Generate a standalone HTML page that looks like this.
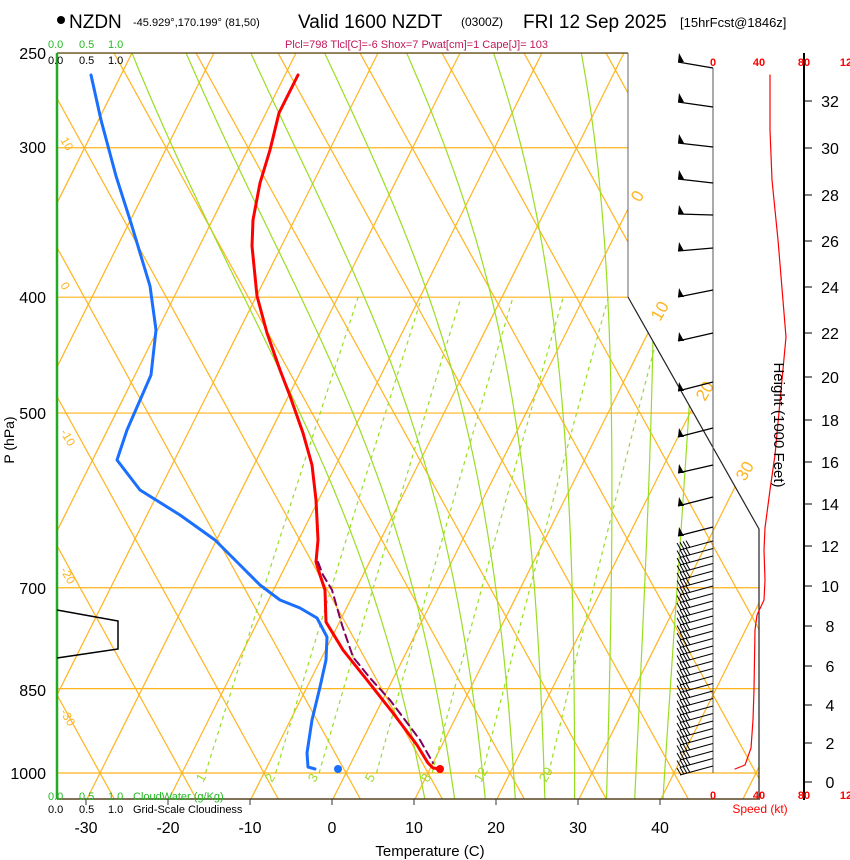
<!DOCTYPE html>
<html><head><meta charset="utf-8"><style>
html,body{margin:0;padding:0;background:#fff;overflow:hidden;}
svg{display:block;font-family:"Liberation Sans",sans-serif;}
</style></head><body>
<svg id="s" width="850" height="860" xmlns="http://www.w3.org/2000/svg">
<defs><clipPath id="cp"><polygon points="57,53 628,53 628,297 759,529 759,799 57,799"/></clipPath></defs>
<g id="grid" clip-path="url(#cp)"></g>
<g id="fg"></g>
<circle cx="61" cy="20" r="4" fill="#000"/>
<text x="69" y="28" font-size="19">NZDN</text>
<text x="133" y="26" font-size="11">-45.929°,170.199° (81,50)</text>
<text x="298" y="28" font-size="19">Valid 1600 NZDT</text>
<text x="461" y="26" font-size="12">(0300Z)</text>
<text x="523" y="28" font-size="19">FRI 12 Sep 2025</text>
<text x="680" y="27" font-size="13">[15hrFcst@1846z]</text>
<text x="285" y="48" font-size="11" fill="#c0185a">Plcl=798 Tlcl[C]=-6 Shox=7 Pwat[cm]=1 Cape[J]= 103</text>
<g font-size="11" fill="#22bb22"><text x="48" y="48">0.0</text><text x="79" y="48">0.5</text><text x="108" y="48">1.0</text>
<text x="48" y="800">0.0</text><text x="79" y="800">0.5</text><text x="108" y="800">1.0</text><text x="133" y="800">CloudWater (g/Kg)</text></g>
<g font-size="11" fill="#000"><text x="48" y="64">0.0</text><text x="79" y="64">0.5</text><text x="108" y="64">1.0</text>
<text x="48" y="813">0.0</text><text x="79" y="813">0.5</text><text x="108" y="813">1.0</text><text x="133" y="813">Grid-Scale Cloudiness</text></g>
<g font-size="16" text-anchor="end"><text x="46" y="59">250</text><text x="46" y="153">300</text><text x="46" y="303">400</text><text x="46" y="419">500</text><text x="46" y="594">700</text><text x="46" y="696">850</text><text x="46" y="779">1000</text></g>
<text transform="translate(14,440) rotate(-90)" font-size="14" text-anchor="middle">P (hPa)</text>
<g font-size="16" text-anchor="middle"><text x="86" y="833">-30</text><text x="168" y="833">-20</text><text x="250" y="833">-10</text><text x="332" y="833">0</text><text x="414" y="833">10</text><text x="496" y="833">20</text><text x="578" y="833">30</text><text x="660" y="833">40</text></g>
<text x="430" y="856" font-size="15" text-anchor="middle">Temperature (C)</text>
<text transform="translate(774,425) rotate(90)" font-size="15" text-anchor="middle">Height (1000 Feet)</text>
<g font-size="11" fill="#ff0000" font-weight="bold" text-anchor="middle"><text x="713" y="66">0</text><text x="759" y="66">40</text><text x="804" y="66">80</text><text x="846" y="66">12</text>
<text x="713" y="799">0</text><text x="759" y="799">40</text><text x="804" y="799">80</text><text x="846" y="799">12</text></g>
<text x="760" y="813" font-size="12" fill="#ff0000" text-anchor="middle">Speed (kt)</text>
</svg>
<script>
(function(){
var NS="http://www.w3.org/2000/svg";
var G=document.getElementById('grid'),F=document.getElementById('fg');
function el(par,tag,a,txt){var e=document.createElementNS(NS,tag);for(var k in a)e.setAttribute(k,a[k]);if(txt!==undefined)e.textContent=txt;par.appendChild(e);return e;}
function Yp(pp){return 773+519.3*Math.log(pp/1000);}
function Xt(T,yy){return 346+8.2*T+0.5*(773-yy);}
var OR="#ffb41e",GR="#99dd22";
[250,300,400,500,700,850,1000].forEach(function(pp){var yy=Yp(pp);el(G,'line',{x1:57,x2:760,y1:yy,y2:yy,stroke:OR,'stroke-width':1.2});});
for(var n=-12;n<=14;n++){var xi=346+82*n;
 el(G,'line',{x1:xi+0.5*(773-830),y1:830,x2:xi+0.5*(773-40),y2:40,stroke:OR,'stroke-width':1.2});
 el(G,'line',{x1:xi-0.55*(773-830),y1:830,x2:xi-0.55*(773-40),y2:40,stroke:OR,'stroke-width':1.2});}
function seg(pts,dash){var d='';for(var i=0;i<pts.length;i++){d+=(i?'L':'M')+pts[i][0].toFixed(1)+' '+pts[i][1].toFixed(1);}
 var a={d:d,fill:'none',stroke:GR,'stroke-width':1.2};if(dash)a['stroke-dasharray']='4,4';el(G,'path',a);}
[1,2,3,5,8,12,20].forEach(function(w){var pts=[];for(var pp=1000;pp>=400;pp-=20){var e=w*pp/(622+w);var l=Math.log(e/6.112);var Td=243.5*l/(17.67-l);var yy=Yp(pp);pts.push([Xt(Td,yy),yy]);}seg(pts,true);});
function rsat(T,pp){var e=6.112*Math.exp(17.67*T/(T+243.5));return 0.622*e/(pp-e);}
function dTdp(T,pp){var Tk=T+273.15,r=rsat(T,pp);return (287*Tk+2.5e6*r)/(1004+2.5e6*2.5e6*r*0.622/(287*Tk*Tk))/pp;}
function trace(tw){var T=tw,pp=1000,upl=[[pp,T]];while(pp>250){T-=dTdp(T,pp)*2;pp-=2;upl.push([pp,T]);}
 T=tw;pp=1000;var dnl=[];while(pp<1060){T+=dTdp(T,pp)*2;pp+=2;dnl.unshift([pp,T]);}
 return dnl.concat(upl);}
function topT(tw){var a=trace(tw);return a[a.length-1][1];}
var tops=[-70,-63.4,-55.5,-46.5,-36.5,-25.9,-15.2],tws=[];
for(var j=0;j<tops.length;j++){var lo=-40,hi=45;for(var i=0;i<30;i++){var m=(lo+hi)/2;if(topT(m)<tops[j])lo=m;else hi=m;}tws.push((lo+hi)/2);}
var last=tws[tws.length-1];tws.push(last+3.5,last+7);
tws.forEach(function(tw){var a=trace(tw);var pts=a.map(function(q){var yy=Yp(q[0]);return [Xt(q[1],yy),yy];});seg(pts,false);});
[[640,203,'0'],[660,322,'10'],[705,402,'20'],[745,482,'30']].forEach(function(l){el(F,'text',{x:l[0],y:l[1],'font-size':17,fill:OR,transform:'rotate(-60 '+l[0]+' '+l[1]+')'},l[2]);});
[[60,140,'10'],[60,285,'0'],[60,432,'-10'],[60,570,'-20'],[60,712,'-30']].forEach(function(l){el(F,'text',{x:l[0],y:l[1],'font-size':12,fill:OR,transform:'rotate(60 '+l[0]+' '+l[1]+')'},l[2]);});
[[203,783,'1'],[272,783,'2'],[315,783,'3'],[372,783,'5'],[428,783,'8'],[481,783,'12'],[546,783,'20']].forEach(function(l){el(F,'text',{x:l[0],y:l[1],'font-size':13,fill:GR,transform:'rotate(-60 '+l[0]+' '+l[1]+')'},l[2]);});
el(F,'polyline',{points:'57,53 628,53',stroke:'#554422','stroke-width':1.3,fill:'none'});
el(F,'polyline',{points:'628,53 628,297',stroke:'#666','stroke-width':1,fill:'none'});
el(F,'polyline',{points:'628,297 759,529 759,799',stroke:'#222','stroke-width':1.2,fill:'none'});
el(F,'line',{x1:57,x2:760,y1:799,y2:799,stroke:'#554422','stroke-width':1.5});
for(var t=-30;t<=40;t+=10){var x=332+8.2*t;el(F,'line',{x1:x,x2:x,y1:799,y2:805,stroke:'#333'});}
el(F,'line',{x1:57,x2:57,y1:53,y2:799,stroke:'#22aa22','stroke-width':2.5});
el(F,'polyline',{points:'57,610 118,621 118,649 57,658',fill:'none',stroke:'#000','stroke-width':1.5});
function pl(pts,c,w,d){var a={points:pts,fill:'none',stroke:c,'stroke-width':w,'stroke-linejoin':'round','stroke-linecap':'round'};if(d)a['stroke-dasharray']=d;el(F,'polyline',a);}
pl('298,75 279,113 270,150 260,183 253,220 252,246 257,296 267,333 280,370 290,396 303,433 312,465 316,500 318,540 316,562 320,575 325,590 326,622 343,650 367,680 393,713 417,745 428,763 433,768 440,769','#ff0000',3);
pl('318,562 323,575 332,590 342,625 353,657 370,678 390,700 420,740 433,763','#800060',2,'8,5');
pl('91,75 101,120 116,176 131,223 150,286 156,330 151,375 127,430 117,460 140,490 180,515 215,540 240,565 260,585 280,600 300,608 317,618 327,637 326,660 320,687 312,720 307,753 308,767 315,769','#1a6fff',3);
el(F,'circle',{cx:440,cy:769,r:4,fill:'#ff0000'});el(F,'circle',{cx:338,cy:769,r:4,fill:'#1a6fff'});
el(F,'line',{x1:713,x2:713,y1:68,y2:773,stroke:'#555','stroke-width':1});
var ub=[[68,-6],[107,-5],[147,-4],[183,-4],[215,-1],[248,3],[290,7],[333,8],[382,9],[428,9],[465,8],[497,9],[527,9]];
ub.forEach(function(b){var yy=b[0],lx=678,ly=yy+b[1];el(F,'line',{x1:713,y1:yy,x2:lx,y2:ly,stroke:'#000','stroke-width':1.3});
 el(F,'polygon',{points:lx+','+ly+' '+(lx+6)+','+(ly)+' '+(lx+1)+','+(ly-9),fill:'#000'});});
for(var yb=541;yb<=770;yb+=7.5){var ly=yb+9;el(F,'line',{x1:713,y1:yb,x2:680,y2:ly,stroke:'#000','stroke-width':1.1});
 for(var k=0;k<4;k++){var fx=681+k*3,fy=ly-k*0.8;el(F,'line',{x1:fx,y1:fy,x2:fx-4,y2:fy-7,stroke:'#000','stroke-width':1});}}
pl('735,769 745,765 751,748 753,720 754,690 755,630 757,615 764,600 765,580 764,550 765,528 770,490 775,455 786,337 778,240 772,180 770,130 770,75','#ff0000',1.2);
el(F,'line',{x1:804,x2:804,y1:53,y2:800,stroke:'#000','stroke-width':2});
var hy={0:782,2:743,4:705,6:666,8:626,10:586,12:546,14:504,16:462,18:420,20:377,22:333,24:287,26:241,28:195,30:148,32:101};
for(var h in hy){el(F,'line',{x1:804,x2:812,y1:hy[h],y2:hy[h],stroke:'#000'});el(F,'text',{x:830,y:hy[h]+6,'font-size':16,'text-anchor':'middle'},h);}
})();
</script>
</body></html>
